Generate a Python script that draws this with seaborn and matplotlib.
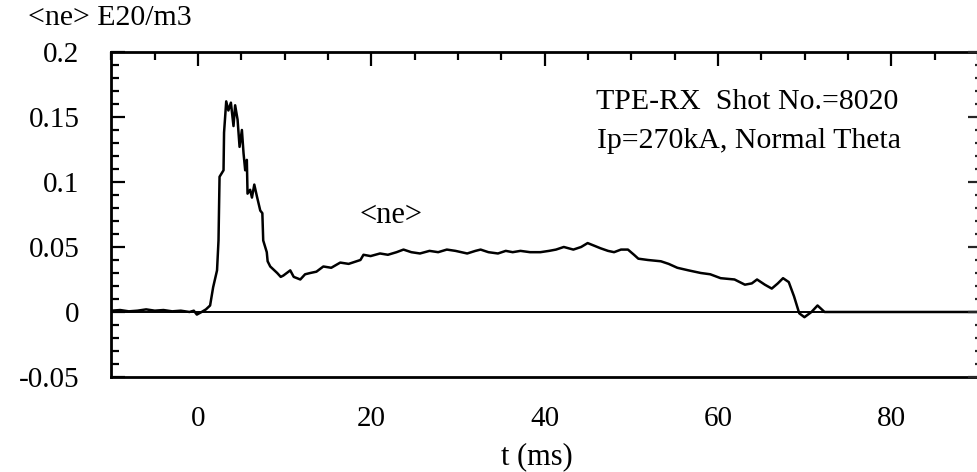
import seaborn as sns
import pandas as pd
import matplotlib.pyplot as plt
from matplotlib.ticker import MultipleLocator, FormatStrFormatter

# line-averaged density <ne> (E20/m3) vs time (ms)
t_ms = [-10.0, -9.0, -8.0, -7.0, -6.0, -5.0, -4.0, -3.0, -2.0, -1.0, -0.5, -0.15,
        0.4, 0.9, 1.38, 1.73, 2.18, 2.35, 2.47, 2.93, 2.99, 3.24, 3.49, 3.78,
        4.08, 4.27, 4.55, 4.78, 5.05, 5.24, 5.43, 5.62, 5.70, 6.0, 6.21, 6.48,
        6.78, 7.17, 7.41, 7.51, 7.92, 8.02, 8.32, 9.12, 9.53, 9.83, 10.63, 11.03,
        11.79, 12.34, 12.95, 13.65, 14.45, 15.36, 16.4, 17.37, 18.73, 19.08, 19.9,
        20.99, 21.9, 22.9, 23.7, 24.6, 25.6, 26.7, 27.7, 28.7, 29.7, 31.05, 32.0,
        32.6, 33.5, 34.6, 35.5, 36.3, 37.2, 38.3, 39.5, 40.5, 41.3, 42.2, 43.3,
        44.2, 44.95, 45.7, 46.44, 47.3, 48.0, 48.8, 49.6, 50.3, 50.8, 51.9, 53.4,
        54.3, 55.3, 56.6, 58.0, 59.1, 60.3, 61.9, 63.1, 63.9, 64.5, 65.4, 66.2,
        66.9, 67.5, 68.16, 68.77, 69.37, 69.97, 70.78, 71.48, 72.29, 73.4, 80.0, 90.0]
ne = [0.001, 0.0015, 0.0005, 0.001, 0.002, 0.001, 0.0015, 0.0005, 0.001, 0.0, 0.001, -0.002,
      0.0, 0.002, 0.005, 0.019, 0.032, 0.055, 0.104, 0.109, 0.138, 0.162, 0.155, 0.161,
      0.143, 0.159, 0.148, 0.127, 0.140, 0.122, 0.109, 0.117, 0.091, 0.094, 0.088, 0.098,
      0.089, 0.078, 0.076, 0.055, 0.046, 0.039, 0.035, 0.030, 0.027, 0.028, 0.032, 0.027,
      0.025, 0.029, 0.030, 0.031, 0.035, 0.034, 0.038, 0.037, 0.040, 0.044, 0.043,
      0.045, 0.044, 0.046, 0.048, 0.046, 0.045, 0.047, 0.046, 0.048, 0.047, 0.045, 0.047,
      0.048, 0.046, 0.045, 0.047, 0.046, 0.047, 0.046, 0.046, 0.047, 0.048, 0.050, 0.048,
      0.050, 0.053, 0.051, 0.049, 0.047, 0.046, 0.048, 0.048, 0.044, 0.041, 0.040, 0.039,
      0.037, 0.034, 0.032, 0.030, 0.029, 0.026, 0.025, 0.021, 0.022, 0.025, 0.021, 0.018,
      0.022, 0.026, 0.023, 0.012, -0.001, -0.004, 0.0, 0.005, 0.0, 0.0, 0.0, 0.0]

x_ticks = [0, 20, 40, 60, 80]
y_ticks = [-0.05, 0, 0.05, 0.1, 0.15, 0.2]

df = pd.DataFrame({'t': t_ms, 'ne': ne})

sns.set_theme(style='white')
plt.rcParams['font.family'] = ['Liberation Serif', 'DejaVu Serif']
plt.rcParams['axes.unicode_minus'] = False

fig = plt.figure(figsize=(9.78, 4.72), dpi=100)
ax = fig.add_axes([0.114, 0.2013, 0.886, 0.6886])

ax.axhline(0, color='black', lw=1.4, zorder=1)
sns.lineplot(data=df, x='t', y='ne', color='black', lw=1.8, ax=ax, zorder=2)

ax.set_xlim(-10, 90)
ax.set_ylim(-0.05, 0.2)
ax.set_xticks(x_ticks)
ax.set_yticks(y_ticks)
ax.xaxis.set_minor_locator(MultipleLocator(5))
ax.yaxis.set_minor_locator(MultipleLocator(0.01))
ax.yaxis.set_major_formatter(FormatStrFormatter('%g'))
ax.set_xlabel('')
ax.set_ylabel('')

ax.tick_params(which='both', direction='in', top=True, right=False, colors='black',
               labelsize=21, width=1.6)
ax.tick_params(which='major', length=10)
ax.tick_params(which='minor', length=6)
ax.tick_params(axis='x', which='major', pad=21)
ax.tick_params(axis='y', which='major', pad=23)

for side in ['left', 'top', 'bottom']:
    ax.spines[side].set_color('black')
    ax.spines[side].set_linewidth(2)
ax.spines['right'].set_visible(False)

# short dotted ticks on the right edge
ax2 = ax.twinx()
ax2.set_ylim(-0.05, 0.2)
ax2.set_yticks(y_ticks)
ax2.yaxis.set_minor_locator(MultipleLocator(0.01))
ax2.tick_params(which='both', direction='in', labelright=False, right=True, width=1.6)
ax2.tick_params(which='major', length=7)
ax2.tick_params(which='minor', length=2)
ax2.grid(False)
for side in ax2.spines:
    ax2.spines[side].set_visible(False)

ax.text(0.5587, 0.846, 'TPE-RX  Shot No.=8020', transform=ax.transAxes,
        ha='left', va='center', fontsize=21.5, color='black')
ax.text(0.5605, 0.726, 'Ip=270kA, Normal Theta', transform=ax.transAxes,
        ha='left', va='center', fontsize=21.5, color='black')
ax.text(22.2, 0.0745, '<ne>', ha='center', va='center', fontsize=22, color='black')

fig.text(28 / 978, 1 - 18 / 472, '<ne> E20/m3', ha='left', va='center',
         fontsize=21.5, color='black')
fig.text(537 / 978, 1 - 457 / 472, 't (ms)', ha='center', va='center',
         fontsize=22, color='black')

fig.savefig('out.png', dpi=100)
